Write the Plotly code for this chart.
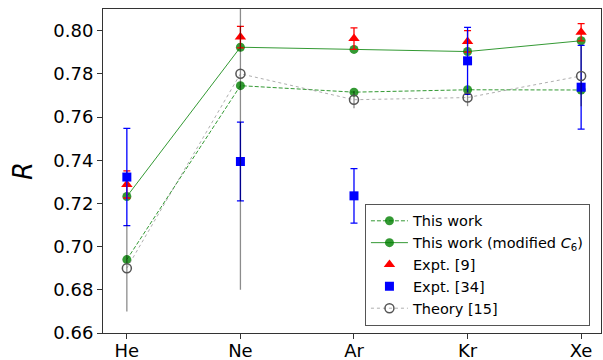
import plotly.graph_objects as go

elements = ["He", "Ne", "Ar", "Kr", "Xe"]

this_work = [0.694, 0.7745, 0.7715, 0.7726, 0.7725]
this_work_mod = [0.7232, 0.7923, 0.7913, 0.7903, 0.7953]

expt9 = [0.7288, 0.797, 0.7963, 0.795, 0.7992]
expt9_err = [0.0063, 0.005, 0.005, 0.005, 0.004]

expt34 = [0.7322, 0.7394, 0.7235, 0.786, 0.7738]
expt34_err = [0.0225, 0.0182, 0.0126, 0.0155, 0.0194]

theory15 = [0.690, 0.780, 0.768, 0.769, 0.779]
theory15_err = [0.020, 0.100, 0.004, 0.004, 0.014]

yticks = [0.66, 0.68, 0.70, 0.72, 0.74, 0.76, 0.78, 0.80]

green = "rgba(0,128,0,0.8)"
font_family = "DejaVu Sans"

fig = go.Figure()

fig.add_trace(go.Scatter(
    x=elements, y=this_work, name="This work", mode="lines+markers",
    line=dict(color=green, width=1, dash="4px,2px"),
    marker=dict(color=green, size=9, symbol="circle"),
))
fig.add_trace(go.Scatter(
    x=elements, y=this_work_mod, name="This work (modified <i>C</i><sub>6</sub>)",
    mode="lines+markers",
    line=dict(color=green, width=1),
    marker=dict(color=green, size=9, symbol="circle"),
))
fig.add_trace(go.Scatter(
    x=elements, y=expt9, name="Expt. [9]", mode="markers",
    marker=dict(color="red", size=10, symbol="triangle-up"),
    error_y=dict(type="data", array=expt9_err, color="red", thickness=1.3, width=3.5),
))
fig.add_trace(go.Scatter(
    x=elements, y=expt34, name="Expt. [34]", mode="markers",
    marker=dict(color="blue", size=9, symbol="square"),
    error_y=dict(type="data", array=expt34_err, color="blue", thickness=1.3, width=3.5),
))
fig.add_trace(go.Scatter(
    x=elements, y=theory15, name="Theory [15]", mode="lines+markers",
    line=dict(color="rgba(120,120,120,0.6)", width=1, dash="dot"),
    marker=dict(color="#555555", size=9, symbol="circle-open",
                line=dict(color="#555555", width=1.5)),
    error_y=dict(type="data", array=theory15_err, color="rgba(0,0,0,0.45)",
                 thickness=1.3, width=0),
))

fig.update_layout(
    width=603, height=360,
    margin=dict(l=103, r=2, t=9, b=27, autoexpand=False),
    paper_bgcolor="white", plot_bgcolor="white",
    font=dict(family=font_family, size=18, color="black"),
    showlegend=True,
    legend=dict(
        x=0.526, y=0.022, xanchor="left", yanchor="bottom",
        bgcolor="white", bordercolor="#555555", borderwidth=1,
        font=dict(family=font_family, size=14.5, color="black"),
        tracegroupgap=0, itemwidth=37,
    ),
)
fig.update_xaxes(
    type="category", range=[-0.21, 4.175], automargin=False,
    showline=True, linecolor="#333333", linewidth=1, mirror=True,
    ticks="outside", ticklen=5, tickcolor="#333333",
    showgrid=False, zeroline=False,
    tickfont=dict(size=18), ticklabelstandoff=-4,
)
fig.update_yaxes(
    range=[0.66, 0.81], tickvals=yticks, ticktext=[f"{v:.2f}" for v in yticks],
    automargin=False,
    showline=True, linecolor="#333333", linewidth=1, mirror=True,
    ticks="outside", ticklen=5, tickcolor="#333333",
    showgrid=False, zeroline=False,
    tickfont=dict(size=18),
    title=dict(text="<i>R</i>", font=dict(size=26), standoff=13),
)

fig.write_html("out.html")
